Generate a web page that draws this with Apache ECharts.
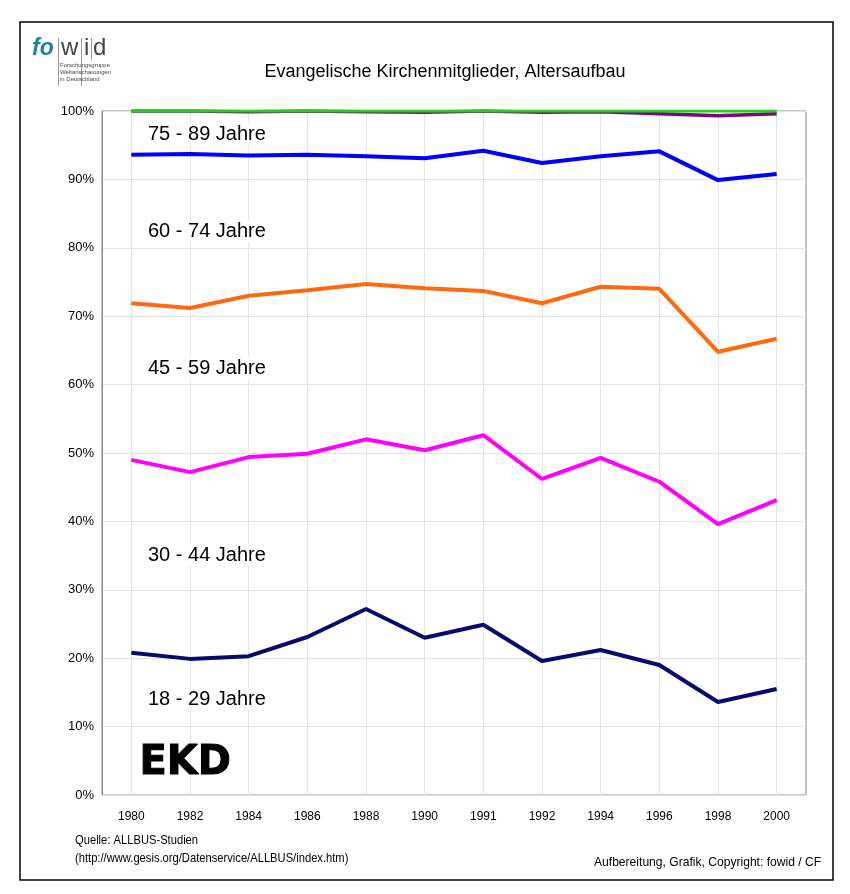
<!DOCTYPE html>
<html><head><meta charset="utf-8">
<script src="https://cdn.jsdelivr.net/npm/echarts@6/dist/echarts.min.js"></script>
<style>html,body{margin:0;padding:0;background:#fff}#c{width:850px;height:894px}</style>
</head><body><div id="c"></div>
<script>
const years = ['1980','1982','1984','1986','1988','1990','1991','1992','1994','1996','1998','2000'];
// cumulative shares (%)
const age18_29 = [20.8,19.9,20.3,23.1,27.2,23.0,24.9,19.6,21.2,19.0,13.6,15.5];
const age30_44 = [49.0,47.2,49.4,49.9,52.0,50.4,52.6,46.2,49.3,45.8,39.6,43.1];
const age45_59 = [71.9,71.2,73.0,73.8,74.7,74.1,73.7,71.9,74.3,74.0,64.8,66.7];
const age60_74 = [93.6,93.7,93.5,93.6,93.4,93.1,94.2,92.4,93.4,94.1,89.9,90.8];
const age75_89 = [100,100,99.9,100,99.9,99.8,100,99.8,99.9,99.6,99.3,99.6];
const age90plus = [100,100,100,100,100,100,100,100,100,100,100,100];
const yTicks = [0,10,20,30,40,50,60,70,80,90,100];
const bandLabels = ['75 - 89 Jahre','60 - 74 Jahre','45 - 59 Jahre','30 - 44 Jahre','18 - 29 Jahre'];

const chart = echarts.init(document.getElementById('c'));
const lineSeries = (data, color, w) => ({type:'line', data, symbol:'none', lineStyle:{color, width:w}, itemStyle:{color}, silent:true});
const FONT = "'Liberation Sans', Arial, sans-serif";
const bandText = (txt, top) => ({type:'text', left:146, top, z:100, style:{text:txt, fontFamily:FONT, fontSize:20, fill:'#000', backgroundColor:'#fff', padding:[1,2,1,2]}});
const footText = (txt, sx, opts) => Object.assign({type:'text', z:100, scaleX:sx, style:{text:txt, fontFamily:FONT, fontSize:13, fill:'#000'}}, opts);
chart.setOption({
  animation:false,
  backgroundColor:'#fff',
  title:{text:'Evangelische Kirchenmitglieder, Altersaufbau', left:440, textAlign:'center', top:58,
    textStyle:{fontFamily:FONT, fontSize:18, fontWeight:'normal', color:'#000'}},
  grid:{left:102, right:44, top:111, bottom:99, show:true, borderColor:'#8a8a8a', borderWidth:1, backgroundColor:'#fff'},
  xAxis:{type:'category', data:years, boundaryGap:true,
    axisLine:{show:false}, axisTick:{show:false},
    axisLabel:{fontFamily:FONT, fontSize:12, color:'#000', margin:16},
    splitLine:{show:true, alignWithLabel:true, lineStyle:{color:'#e4e4e4', width:1}}},
  yAxis:{type:'value', min:0, max:100, interval:10,
    axisLine:{show:true, lineStyle:{color:'#8a8a8a'}}, axisTick:{show:false},
    axisLabel:{formatter:'{value}%', fontFamily:FONT, fontSize:13, color:'#000', margin:8},
    splitLine:{show:true, lineStyle:{color:'#e4e4e4', width:1}}},
  series:[
    lineSeries(age18_29,'#0a0a6e',4),
    lineSeries(age30_44,'#ff00ff',4),
    lineSeries(age45_59,'#ff6a10',4),
    lineSeries(age60_74,'#0000ff',4),
    lineSeries(age75_89,'#7a0a7a',3.5),
    lineSeries(age90plus,'#22cc22',3)
  ],
  graphic:[
    {type:'rect', shape:{x:20,y:22,width:813,height:858}, style:{fill:'none', stroke:'#000', lineWidth:1.5}, silent:true, z:-10},
    {type:'text', left:32, top:37, style:{text:'fo', fontFamily:FONT, fontSize:23, fontStyle:'italic', fontWeight:'bold', fill:'#1f7fa6'}},
    {type:'rect', shape:{x:58,y:38,width:1,height:48}, style:{fill:'#999'}},
    {type:'text', left:61, top:36, style:{text:'w', fontFamily:FONT, fontSize:24, fill:'#444'}},
    {type:'rect', shape:{x:81,y:38,width:1,height:48}, style:{fill:'#999'}},
    {type:'text', left:84, top:36, style:{text:'i', fontFamily:FONT, fontSize:24, fill:'#444'}},
    {type:'rect', shape:{x:91,y:38,width:1,height:22}, style:{fill:'#999'}},
    {type:'text', left:93, top:36, style:{text:'d', fontFamily:FONT, fontSize:24, fill:'#444'}},
    {type:'text', left:60, top:62, style:{text:'Forschungsgruppe\nWeltanschauungen\nin Deutschland', fontFamily:FONT, fontSize:6, lineHeight:7, fill:'#444'}},
    bandText(bandLabels[0], 123),
    bandText(bandLabels[1], 220),
    bandText(bandLabels[2], 357),
    bandText(bandLabels[3], 544),
    bandText(bandLabels[4], 688),
    {type:'text', left:139, top:743, z:100, style:{text:'EKD', fontFamily:"'DejaVu Sans', Arial, sans-serif", fontSize:40, fontWeight:'bold', fill:'#000', stroke:'#000', lineWidth:1}},
    footText('Quelle: ALLBUS-Studien', 0.86, {left:75, top:834}),
    footText('(http://www.gesis.org/Datenservice/ALLBUS/index.htm)', 0.86, {left:75, top:852}),
    footText('Aufbereitung, Grafik, Copyright: fowid / CF', 0.93, {left:594, top:856})
  ]
});
</script></body></html>
